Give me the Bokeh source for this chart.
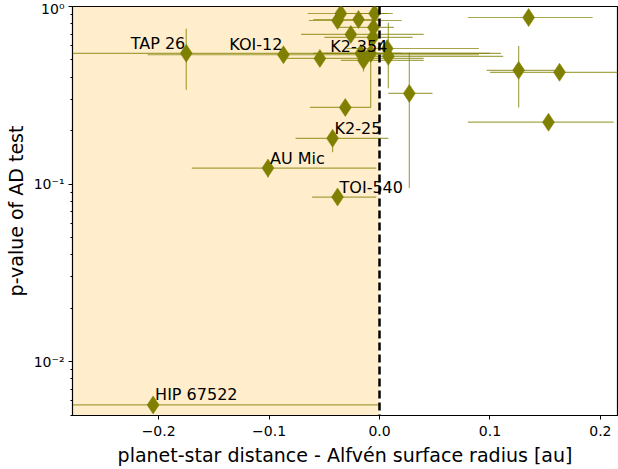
from bokeh.plotting import figure
from bokeh.models import (ColumnDataSource, Range1d, BoxAnnotation, Span,
                          FixedTicker)
from bokeh.embed import file_html
from bokeh.resources import INLINE
from bokeh.core.properties import value

# ---------------- data ----------------
names = ["HIP 67522", "TAP 26", "KOI-12", "", "K2-354", "", "K2-25", "AU Mic",
         "TOI-540", "", "", "", "", "", "", "", "", "", "", "", "", "", "",
         "", ""]
dist = [-0.205, -0.175, -0.087, -0.054, 0.008, 0.007, -0.0425, -0.101,
        -0.038, -0.031, 0.135, 0.126, 0.163, 0.153, 0.027, -0.035, -0.038,
        -0.019, -0.0045, -0.0055, -0.026, -0.006, -0.0145, -0.017, -0.008]
pval = [0.0057, 0.545, 0.535, 0.51, 0.524, 0.58, 0.181, 0.123, 0.0845,
        0.27, 0.867, 0.437, 0.426, 0.223, 0.324, 0.913, 0.834, 0.845, 0.913,
        0.762, 0.696, 0.67, 0.497, 0.544, 0.544]
dist_lo = [-0.45, -0.34, -0.21, -0.085, -0.02, -0.03, -0.076, -0.17, -0.061,
           -0.063, 0.08, 0.097, 0.10, 0.08, 0.008, -0.065, -0.064, -0.06,
           -0.03, -0.038, -0.071, -0.05, -0.035, -0.06, -0.05]
dist_hi = [0.0, 0.11, 0.09, 0.04, 0.112, 0.09, 0.008, -0.003, -0.003,
           -0.008, 0.193, 0.165, 0.25, 0.212, 0.048, 0.008, 0.02, 0.0, 0.012,
           0.013, 0.04, 0.03, 0.04, 0.10, 0.02]
pval_lo = [0.0057, 0.34, 0.535, 0.51, 0.346, 0.56, 0.151, 0.109, 0.0845,
           0.27, 0.867, 0.27, 0.426, 0.223, 0.095, 0.913, 0.834, 0.845,
           0.913, 0.762, 0.696, 0.50, 0.43, 0.544, 0.27]
pval_hi = [0.0057, 0.75, 0.535, 0.51, 0.81, 0.60, 0.198, 0.137, 0.0845,
           0.27, 0.867, 0.60, 0.426, 0.223, 0.551, 0.913, 0.834, 0.845,
           0.913, 0.762, 0.696, 0.85, 0.56, 0.544, 0.544]

x_ticks = [-0.2, -0.1, 0.0, 0.1, 0.2]
x_tick_labels = ["\u22120.2", "\u22120.1", "0.0", "0.1", "0.2"]
y_ticks = [0.01, 0.1, 1.0]
y_tick_labels = ["10\u207b\u00b2", "10\u207b\u00b9", "10\u2070"]
y_minor = [0.005, 0.006, 0.007, 0.008, 0.009,
           0.02, 0.03, 0.04, 0.05, 0.06, 0.07, 0.08, 0.09,
           0.2, 0.3, 0.4, 0.5, 0.6, 0.7, 0.8, 0.9]

left_labels = {"TAP 26", "KOI-12", "K2-354"}

# ---------------- figure ----------------
FONT = "DejaVu Sans"
OLIVE = "#808000"

p = figure(width=618, height=469, output_backend="svg", toolbar_location=None,
           y_axis_type="log",
           x_range=Range1d(-0.278, 0.2155), y_range=Range1d(0.00497, 1.0),
           min_border_left=72, min_border_right=1, min_border_top=6,
           min_border_bottom=54)
p.xgrid.visible = False
p.ygrid.visible = False
p.outline_line_color = "black"
p.outline_line_width = 1.2

src = ColumnDataSource(dict(x=dist, y=pval, xlo=dist_lo, xhi=dist_hi,
                            ylo=pval_lo, yhi=pval_hi, name=names))

# shaded region left of the Alfven surface
p.add_layout(BoxAnnotation(right=0, fill_color="orange", fill_alpha=0.2,
                           line_alpha=0, level="underlay"))

# error bars
p.segment(x0="xlo", x1="xhi", y0="y", y1="y", source=src,
          line_color=OLIVE, line_alpha=0.7, line_width=1.2)
p.segment(x0="x", x1="x", y0="ylo", y1="yhi", source=src,
          line_color=OLIVE, line_alpha=0.7, line_width=1.2)

# markers
p.scatter("x", "y", source=src, marker="diamond", size=18,
          fill_color=OLIVE, line_color=OLIVE, line_width=0.5)

# dashed line at 0
p.add_layout(Span(location=0, dimension="height", line_color="black",
                  line_width=2.5, line_dash="8 4"))

# labels
lx, ly, lt, rx, ry, rt = [], [], [], [], [], []
for xv, yv, nm in zip(dist, pval, names):
    if not nm:
        continue
    if nm in left_labels:
        lx.append(xv); ly.append(yv); lt.append(nm)
    else:
        rx.append(xv); ry.append(yv); rt.append(nm)
p.text(x=lx, y=ly, text=lt, text_align="right", text_baseline="alphabetic",
       x_offset=-1, y_offset=-10, text_font=value(FONT),
       text_font_size="16px", text_color="black")
p.text(x=rx, y=ry, text=rt, text_align="left", text_baseline="alphabetic",
       x_offset=2, y_offset=-10, text_font=value(FONT),
       text_font_size="16px", text_color="black")

# axes
p.xaxis.ticker = FixedTicker(ticks=x_ticks)
p.xaxis.major_label_overrides = dict(zip(x_ticks, x_tick_labels))
p.yaxis.ticker = FixedTicker(ticks=y_ticks, minor_ticks=y_minor)
p.yaxis.major_label_overrides = dict(zip(y_ticks, y_tick_labels))

p.xaxis.axis_label = "planet-star distance - Alfvén surface radius [au]"
p.yaxis.axis_label = "p-value of AD test"
for ax in (p.xaxis, p.yaxis):
    ax.axis_label_text_font = FONT
    ax.axis_label_text_font_style = "normal"
    ax.axis_label_text_font_size = "19px"
    ax.axis_label_text_color = "black"
    ax.major_label_text_font = FONT
    ax.major_label_text_font_size = "14px"
    ax.major_label_text_color = "black"
    ax.axis_line_color = "black"
    ax.major_tick_line_color = "black"
    ax.minor_tick_line_color = "black"
    ax.major_tick_in = 0
    ax.major_tick_out = 4
    ax.minor_tick_in = 0
    ax.minor_tick_out = 2
p.xaxis.minor_tick_line_color = None
p.xaxis.axis_label_standoff = 5
p.yaxis.axis_label_standoff = 4
p.xaxis.major_label_standoff = 6
p.yaxis.major_label_standoff = 4

open("out.html", "w").write(file_html(p, INLINE))
